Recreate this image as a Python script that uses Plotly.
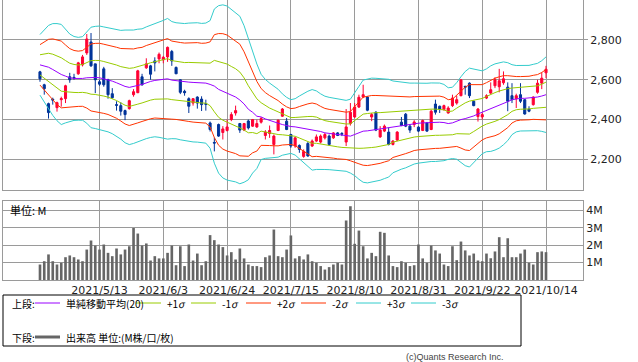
import plotly.graph_objects as go

# ---------------- data ----------------
tick_pos = [14, 29, 44, 59, 74, 89, 104, 119]
tick_labels = ["2021/5/13", "2021/6/3", "2021/6/24", "2021/7/15",
               "2021/8/10", "2021/8/31", "2021/9/22", "2021/10/14"]

opens = [2640, 2575, 2480, 2502, 2460, 2500, 2505, 2615, 2612, 2630,
         2675, 2735, 2790, 2680, 2590, 2655, 2600, 2530, 2475, 2470,
         2445, 2455, 2525, 2535, 2615, 2660, 2670, 2695, 2705, 2700,
         2715, 2742, 2662, 2600, 2542, 2505, 2483, 2513, 2503, 2480,
         2383, 2285, 2375, 2335, 2345, 2400, 2433, 2380, 2347, 2393,
         2367, 2363, 2387, 2320, 2330, 2275, 2345, 2417, 2392, 2325,
         2267, 2270, 2215, 2280, 2267, 2292, 2287, 2308, 2317, 2308,
         2333, 2330, 2287, 2380, 2413, 2463, 2513, 2513, 2413, 2437,
         2313, 2342, 2337, 2275, 2297, 2387, 2427, 2367, 2375, 2362,
         2345, 2383, 2350, 2478, 2467, 2450, 2433, 2470, 2483, 2520,
         2567, 2583, 2492, 2415, 2413, 2508, 2533, 2570, 2565, 2585,
         2563, 2520, 2505, 2525, 2500, 2453, 2475, 2537, 2583, 2635]
highs = [2645, 2580, 2485, 2510, 2490, 2515, 2575, 2635, 2630, 2690,
         2725, 2830, 2835, 2680, 2600, 2665, 2605, 2558, 2492, 2487,
         2450, 2500, 2553, 2650, 2630, 2708, 2675, 2713, 2737, 2720,
         2767, 2750, 2667, 2603, 2550, 2512, 2508, 2517, 2517, 2500,
         2390, 2310, 2380, 2367, 2400, 2437, 2470, 2383, 2383, 2400,
         2403, 2400, 2413, 2347, 2370, 2325, 2400, 2458, 2408, 2328,
         2313, 2275, 2250, 2287, 2300, 2325, 2325, 2333, 2325, 2337,
         2337, 2337, 2453, 2483, 2483, 2525, 2575, 2517, 2433, 2442,
         2367, 2375, 2360, 2297, 2342, 2413, 2433, 2375, 2397, 2367,
         2400, 2388, 2450, 2500, 2470, 2475, 2467, 2525, 2520, 2600,
         2570, 2587, 2497, 2458, 2433, 2527, 2587, 2613, 2655, 2642,
         2587, 2583, 2530, 2583, 2503, 2467, 2517, 2600, 2637, 2670]
lows = [2590, 2525, 2405, 2475, 2440, 2465, 2483, 2585, 2600, 2625,
        2667, 2725, 2665, 2533, 2570, 2565, 2505, 2505, 2445, 2420,
        2397, 2450, 2515, 2533, 2570, 2655, 2600, 2642, 2683, 2683,
        2690, 2670, 2630, 2528, 2520, 2433, 2470, 2455, 2443, 2445,
        2340, 2240, 2313, 2300, 2340, 2392, 2420, 2333, 2342, 2350,
        2363, 2358, 2380, 2300, 2308, 2225, 2342, 2413, 2347, 2258,
        2258, 2233, 2208, 2213, 2262, 2288, 2280, 2300, 2267, 2303,
        2317, 2317, 2267, 2370, 2408, 2458, 2508, 2442, 2392, 2342,
        2308, 2337, 2270, 2270, 2292, 2367, 2362, 2333, 2362, 2337,
        2342, 2338, 2347, 2425, 2433, 2445, 2430, 2463, 2475, 2517,
        2525, 2508, 2467, 2390, 2400, 2503, 2528, 2558, 2537, 2575,
        2442, 2483, 2458, 2483, 2425, 2437, 2470, 2530, 2553, 2608]
closes = [2605, 2555, 2435, 2498, 2485, 2505, 2570, 2600, 2609, 2685,
          2715, 2805, 2670, 2600, 2578, 2575, 2525, 2510, 2472, 2442,
          2425, 2495, 2540, 2645, 2575, 2680, 2628, 2685, 2728, 2713,
          2763, 2695, 2630, 2537, 2535, 2467, 2505, 2483, 2475, 2477,
          2350, 2282, 2317, 2353, 2363, 2425, 2445, 2347, 2380, 2358,
          2400, 2380, 2405, 2337, 2345, 2317, 2397, 2453, 2350, 2267,
          2308, 2250, 2240, 2217, 2292, 2313, 2317, 2325, 2275, 2333,
          2320, 2327, 2363, 2437, 2463, 2512, 2525, 2447, 2425, 2347,
          2347, 2367, 2275, 2292, 2337, 2370, 2367, 2347, 2388, 2342,
          2395, 2342, 2442, 2437, 2453, 2470, 2458, 2508, 2500, 2600,
          2563, 2520, 2470, 2453, 2425, 2520, 2550, 2600, 2595, 2605,
          2492, 2500, 2520, 2492, 2428, 2442, 2513, 2583, 2608, 2653]

ma20 = [2675.0, 2668.3, 2663.3, 2651.7, 2638.3, 2626.7, 2618.3, 2610.0, 2606.7, 2605.0,
        2606.7, 2610.0, 2611.7, 2611.7, 2610.0, 2605.0, 2600.0, 2593.3, 2585.0, 2575.0,
        2566.7, 2561.7, 2565.0, 2571.7, 2576.7, 2585.0, 2591.7, 2596.7, 2600.0, 2601.7,
        2605.0, 2598.3, 2595.0, 2591.7, 2588.3, 2588.3, 2586.7, 2586.7, 2583.3, 2583.3,
        2576.7, 2568.3, 2551.7, 2541.7, 2533.3, 2523.3, 2513.3, 2498.3, 2478.3, 2451.7,
        2436.7, 2416.7, 2413.3, 2403.3, 2395.0, 2388.3, 2381.7, 2375.0, 2368.3, 2365.0,
        2363.3, 2360.0, 2356.7, 2351.7, 2348.3, 2346.7, 2340.0, 2333.3, 2330.0, 2326.7,
        2323.3, 2320.0, 2318.3, 2316.7, 2325.0, 2333.3, 2341.7, 2343.3, 2346.7, 2348.3,
        2350.0, 2353.3, 2356.7, 2363.3, 2366.7, 2370.0, 2371.7, 2375.0, 2380.0, 2381.7,
        2383.3, 2385.0, 2386.7, 2386.7, 2386.7, 2385.0, 2380.0, 2383.3, 2393.3, 2400.0,
        2405.0, 2410.0, 2418.3, 2428.3, 2436.7, 2446.7, 2455.0, 2463.3, 2471.7, 2481.7,
        2490.0, 2500.0, 2505.0, 2506.7, 2506.7, 2508.3, 2511.7, 2513.3, 2518.3, 2525.0]
sd20 = [50.8, 60.3, 70.0, 76.9, 81.4, 83.9, 78.3, 73.3, 70.3, 69.4,
        70.0, 76.1, 84.2, 85.6, 86.7, 86.9, 87.2, 88.1, 89.2, 91.1,
        94.4, 95.8, 95.0, 94.2, 93.1, 93.6, 93.9, 94.4, 96.4, 98.9,
        101.1, 98.1, 97.2, 97.8, 98.1, 98.9, 99.7, 100.0, 100.0, 100.6,
        106.9, 129.2, 140.3, 145.0, 145.8, 143.6, 142.2, 140.3, 131.1, 118.1,
        101.9, 87.5, 71.4, 66.1, 62.8, 60.0, 56.9, 51.4, 47.8, 45.0,
        47.2, 52.8, 58.3, 63.6, 67.5, 65.8, 63.1, 61.4, 60.6, 60.3,
        60.3, 60.0, 59.4, 61.9, 68.9, 77.8, 85.6, 87.2, 87.2, 86.4,
        85.0, 83.3, 81.9, 76.9, 74.7, 73.1, 71.4, 69.4, 67.8, 66.9,
        66.4, 65.8, 65.8, 65.8, 65.6, 63.9, 60.0, 59.7, 64.2, 71.7,
        78.9, 82.8, 78.3, 73.3, 69.4, 69.4, 71.7, 72.2, 71.7, 69.4,
        65.3, 58.6, 55.6, 54.7, 54.7, 54.7, 55.3, 56.4, 59.2, 63.3]

volume_m = [0.89, 1.08, 1.47, 1.08, 0.89, 0.99, 1.31, 1.41, 1.31, 1.18,
            1.08, 1.75, 2.27, 1.98, 1.75, 2.04, 1.56, 1.37, 1.81, 1.47,
            1.75, 1.94, 2.99, 2.67, 1.98, 2.10, 1.12, 1.37, 1.24, 1.24,
            1.56, 1.98, 0.85, 1.94, 0.80, 2.04, 1.12, 1.52, 0.85, 1.08,
            2.58, 2.29, 2.04, 1.89, 1.41, 1.60, 1.18, 1.81, 1.24, 0.89,
            0.80, 0.80, 0.74, 1.31, 1.41, 2.90, 1.37, 1.31, 1.75, 2.56,
            1.24, 1.37, 1.18, 1.47, 1.08, 0.99, 0.80, 0.60, 0.74, 0.89,
            0.99, 0.89, 3.42, 4.24, 2.08, 2.84, 1.94, 1.24, 1.56, 1.37,
            2.77, 2.71, 1.41, 0.80, 0.74, 1.08, 0.99, 0.80, 0.85, 2.04,
            1.24, 0.99, 1.98, 1.70, 1.52, 0.89, 0.80, 1.94, 1.14, 2.21,
            1.70, 1.41, 1.52, 1.12, 1.08, 1.52, 1.25, 1.64, 2.46, 1.31,
            2.40, 1.31, 1.31, 1.52, 1.75, 0.99, 0.89, 1.60, 1.64, 1.60]

main_ticks = [2200, 2400, 2600, 2800]
main_tick_text = ["2,200", "2,400", "2,600", "2,800"]
vol_ticks = [1, 2, 3, 4]
vol_tick_text = ["1M", "2M", "3M", "4M"]

band_specs = [("+3σ", 3, "#33cccc"), ("+2σ", 2, "#ff3300"), ("+1σ", 1, "#99cc00"),
              ("-1σ", -1, "#99cc00"), ("-2σ", -2, "#ff3300"), ("-3σ", -3, "#33cccc")]

# ---------------- figure ----------------
W, H = 638, 362
ML, MR, MT, MB = 3, 55, 0, 82
PW, PH = W - ML - MR, H - MT - MB


def px_x(px):
    return (px - ML) / PW


def px_y(py):
    return (H - MB - py) / PH


idx = list(range(len(closes)))
GRID = "#9a9a9a"
RED = "#ff0033"
BLUE = "#003399"
FONT = "DejaVu Sans, Noto Sans CJK JP, sans-serif"
JFONT = "Noto Sans CJK JP, DejaVu Sans, sans-serif"

fig = go.Figure()

for name, k, col in band_specs:
    fig.add_trace(go.Scatter(
        x=idx, y=[m + k * s for m, s in zip(ma20, sd20)], mode="lines",
        line=dict(color=col, width=1), name=name, showlegend=False,
        hoverinfo="skip", xaxis="x", yaxis="y"))
fig.add_trace(go.Scatter(
    x=idx, y=ma20, mode="lines", line=dict(color="#9900ff", width=1),
    name="MA20", showlegend=False, hoverinfo="skip", xaxis="x", yaxis="y"))

fig.add_trace(go.Candlestick(
    x=idx, open=opens, high=highs, low=lows, close=closes,
    increasing=dict(line=dict(color=RED, width=1), fillcolor=RED),
    decreasing=dict(line=dict(color=BLUE, width=1), fillcolor=BLUE),
    whiskerwidth=0, showlegend=False, xaxis="x", yaxis="y"))

fig.add_trace(go.Bar(
    x=idx, y=volume_m, width=0.62, marker=dict(color="#666666", line=dict(width=0)),
    showlegend=False, xaxis="x2", yaxis="y2"))

xr = [-8.7, 127.7]
common_x = dict(range=xr, tickvals=tick_pos, showgrid=True, gridcolor=GRID, gridwidth=1,
                showline=True, mirror=True, linecolor=GRID, linewidth=1,
                zeroline=False, ticks="", fixedrange=True)

fig.update_layout(
    width=W, height=H, margin=dict(l=ML, r=MR, t=MT, b=MB),
    paper_bgcolor="white", plot_bgcolor="white", showlegend=False,
    font=dict(family=FONT, size=11, color="#222222"),
    xaxis=dict(domain=[0, 1], anchor="y", showticklabels=False,
               rangeslider=dict(visible=False), **common_x),
    xaxis2=dict(domain=[0, 1], anchor="y2", matches="x", ticktext=tick_labels,
                showticklabels=True, tickfont=dict(size=11, family=FONT, color="#222222"),
                **common_x),
    yaxis=dict(domain=[px_y(190), 1], anchor="x", side="right", range=[2046, 3001],
               tickvals=main_ticks, ticktext=main_tick_text, showgrid=True,
               gridcolor=GRID, showline=True, mirror=True, linecolor=GRID,
               ticks="outside", ticklen=4, tickcolor=GRID, zeroline=False,
               tickfont=dict(size=11, family=FONT, color="#222222")),
    yaxis2=dict(domain=[0, px_y(201)], anchor="x2", side="right", range=[0, 4.54],
                tickvals=vol_ticks, ticktext=vol_tick_text, showgrid=True,
                gridcolor=GRID, showline=True, mirror=True, linecolor=GRID,
                ticks="", zeroline=False,
                tickfont=dict(size=11, family=FONT, color="#222222")),
)

# volume unit label
fig.add_annotation(x=px_x(8), y=px_y(210), xref="paper", yref="paper", text="単位: M",
                   showarrow=False, xanchor="left", yanchor="middle",
                   font=dict(family=JFONT, size=11, color="#000000"))

# legend box
fig.add_shape(type="rect", xref="paper", yref="paper", x0=px_x(3), x1=px_x(521),
              y0=px_y(346), y1=px_y(295), line=dict(color="#000000", width=1))

legend_font = dict(family=JFONT, size=10, color="#000000")
row1, row2 = 303, 337
fig.add_annotation(x=px_x(10), y=px_y(row1), xref="paper", yref="paper", text="上段:",
                   showarrow=False, xanchor="left", yanchor="middle", font=legend_font)
fig.add_annotation(x=px_x(10), y=px_y(row2), xref="paper", yref="paper", text="下段:",
                   showarrow=False, xanchor="left", yanchor="middle", font=legend_font)

legend_items = [(35, "#9900ff", "単純移動平均(20)"), (136, "#99cc00", "+1<i>σ</i>"),
                (191, "#99cc00", "-1<i>σ</i>"), (246, "#ff3300", "+2<i>σ</i>"),
                (301, "#ff3300", "-2<i>σ</i>"), (356, "#33cccc", "+3<i>σ</i>"),
                (411, "#33cccc", "-3<i>σ</i>")]
for x0, col, label in legend_items:
    fig.add_shape(type="line", xref="paper", yref="paper", x0=px_x(x0), x1=px_x(x0 + 25),
                  y0=px_y(row1), y1=px_y(row1), line=dict(color=col, width=1))
    fig.add_annotation(x=px_x(x0 + 29), y=px_y(row1), xref="paper", yref="paper",
                       text=label, showarrow=False, xanchor="left", yanchor="middle",
                       font=legend_font)

fig.add_shape(type="line", xref="paper", yref="paper", x0=px_x(35), x1=px_x(60),
              y0=px_y(row2), y1=px_y(row2), line=dict(color="#666666", width=3))
fig.add_annotation(x=px_x(64), y=px_y(row2), xref="paper", yref="paper",
                   text="出来高 単位:(M株/口/枚)", showarrow=False, xanchor="left",
                   yanchor="middle", font=legend_font)

fig.add_annotation(x=px_x(506), y=px_y(357), xref="paper", yref="paper",
                   text="(c)Quants Research Inc.", showarrow=False, xanchor="right",
                   yanchor="middle",
                   font=dict(family="Liberation Sans, Arial, sans-serif", size=9, color="#444444"))

fig.write_html("out.html", config={"displayModeBar": False},
               post_script="document.body.style.margin='0';document.body.style.overflow='hidden';")
